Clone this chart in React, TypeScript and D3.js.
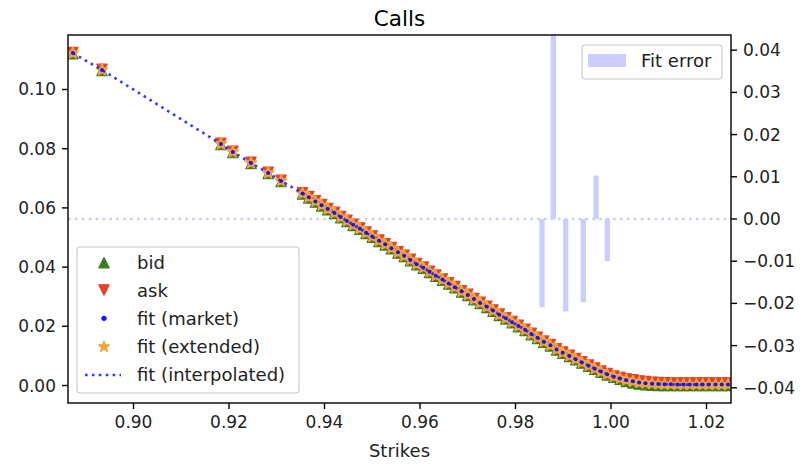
import React from "react";
import * as d3 from "d3";

// ---------- data ----------
const strikes: number[] = [
  0.8873, 0.8934, 0.9183, 0.9208, 0.9246, 0.9282, 0.9309,
  0.9354, 0.9367, 0.9381, 0.9394, 0.9407, 0.9421, 0.9434, 0.9447, 0.9460, 0.9474,
  0.9487, 0.9500, 0.9514, 0.9527, 0.9540, 0.9554, 0.9567, 0.9580, 0.9593, 0.9607,
  0.9620, 0.9633, 0.9647, 0.9660, 0.9673, 0.9687, 0.9700, 0.9713, 0.9726, 0.9740,
  0.9753, 0.9766, 0.9780, 0.9793, 0.9806, 0.9820, 0.9833, 0.9846, 0.9859, 0.9873,
  0.9886, 0.9899, 0.9913, 0.9926, 0.9939, 0.9953, 0.9966, 0.9979, 0.9992, 1.0006,
  1.0019, 1.0032, 1.0046, 1.0059, 1.0072, 1.0086, 1.0099, 1.0112, 1.0125, 1.0139,
  1.0152, 1.0165, 1.0179, 1.0192, 1.0205, 1.0219, 1.0232, 1.0245,
];

const fitValues: number[] = [
  0.1123, 0.1066, 0.0816, 0.0789, 0.0752, 0.0718, 0.0691,
  0.0649, 0.0636, 0.0622, 0.0609, 0.0596, 0.0583, 0.0569, 0.0556, 0.0543, 0.0530,
  0.0516, 0.0503, 0.0489, 0.0477, 0.0464, 0.0450, 0.0438, 0.0424, 0.0410, 0.0398,
  0.0384, 0.0371, 0.0358, 0.0345, 0.0332, 0.0318, 0.0306, 0.0292, 0.0279, 0.0266,
  0.0253, 0.0239, 0.0227, 0.0214, 0.0201, 0.0188, 0.0174, 0.0161, 0.0148, 0.0136,
  0.0122, 0.0111, 0.0100, 0.0089, 0.0078, 0.0067, 0.0057, 0.0047, 0.0038, 0.0030,
  0.0024, 0.0018, 0.0014, 0.0010, 0.0008, 0.0006, 0.0005, 0.0004, 0.0004, 0.0003,
  0.0003, 0.0003, 0.0003, 0.0003, 0.0003, 0.0003, 0.0003, 0.0003,
];

const bidValues: number[] = [
  0.1121, 0.1064, 0.0814, 0.0787, 0.0750, 0.0716, 0.0689,
  0.0647, 0.0634, 0.0620, 0.0607, 0.0594, 0.0581, 0.0567, 0.0554, 0.0541, 0.0528,
  0.0514, 0.0501, 0.0487, 0.0475, 0.0462, 0.0448, 0.0436, 0.0422, 0.0408, 0.0396,
  0.0382, 0.0369, 0.0356, 0.0343, 0.0330, 0.0316, 0.0304, 0.0290, 0.0277, 0.0264,
  0.0251, 0.0237, 0.0225, 0.0212, 0.0199, 0.0186, 0.0172, 0.0159, 0.0146, 0.0134,
  0.0120, 0.0109, 0.0098, 0.0087, 0.0076, 0.0065, 0.0055, 0.0045, 0.0036, 0.0028,
  0.0021, 0.0014, 0.0009, 0.0005, 0.0003, 0.0001, 0.0000, 0.0000, 0.0000, 0.0000,
  0.0000, 0.0000, 0.0000, 0.0000, 0.0000, 0.0000, 0.0000, 0.0000,
];

const askValues: number[] = [
  0.1125, 0.1068, 0.0818, 0.0791, 0.0754, 0.0720, 0.0693,
  0.0651, 0.0638, 0.0624, 0.0611, 0.0598, 0.0585, 0.0571, 0.0558, 0.0545, 0.0532,
  0.0518, 0.0505, 0.0491, 0.0479, 0.0466, 0.0452, 0.0440, 0.0426, 0.0412, 0.0400,
  0.0386, 0.0373, 0.0360, 0.0347, 0.0334, 0.0320, 0.0308, 0.0294, 0.0281, 0.0268,
  0.0255, 0.0241, 0.0229, 0.0216, 0.0203, 0.0190, 0.0176, 0.0163, 0.0150, 0.0138,
  0.0124, 0.0113, 0.0102, 0.0091, 0.0080, 0.0069, 0.0059, 0.0049, 0.0040, 0.0032,
  0.0027, 0.0022, 0.0019, 0.0015, 0.0013, 0.0011, 0.0010, 0.0009, 0.0008, 0.0008,
  0.0008, 0.0008, 0.0008, 0.0008, 0.0008, 0.0008, 0.0008, 0.0008,
];

const errorStrikes: number[] = [0.98555, 0.98792, 0.99051, 0.9942, 0.99686, 0.99922];
const errorValues: number[] = [-0.0209, 0.05, -0.0219, -0.0197, 0.0103, -0.01];

const xTicks: number[] = [0.9, 0.92, 0.94, 0.96, 0.98, 1.0, 1.02];
const yLeftTicks: number[] = [0.0, 0.02, 0.04, 0.06, 0.08, 0.1];
const yRightTicks: number[] = [-0.04, -0.03, -0.02, -0.01, 0.0, 0.01, 0.02, 0.03, 0.04];
const legendLabels: string[] = ["bid", "ask", "fit (market)", "fit (extended)", "fit (interpolated)"];

// ---------- layout ----------
const W = 805;
const H = 464;
const L = 68;
const R = 731;
const T = 35;
const B = 403;
const FONT = "DejaVu Sans, sans-serif";

const GREEN = "#3b7d1c";
const RED = "#e2432a";
const ORANGE = "#f2a63a";
const BLUE = "#1515ff";
const BAR = "#ccccff";

const x = d3.scaleLinear().domain([0.88628, 1.02513]).range([L, R]);
const yL = d3.scaleLinear().domain([-0.00591, 0.11841]).range([B, T]);
const yR = d3.scaleLinear().domain([-0.0436, 0.0436]).range([B, T]);

const MS = 5.2; // marker half-size
const triUp = `M0,${-MS}L${-MS},${MS}L${MS},${MS}Z`;
const triDown = `M0,${MS}L${-MS},${-MS}L${MS},${-MS}Z`;
const starPath = (() => {
  const pts: string[] = [];
  const RO = MS * 1.12;
  for (let k = 0; k < 10; k++) {
    const r = k % 2 === 0 ? RO : RO * 0.42;
    const a = -Math.PI / 2 + (k * Math.PI) / 5;
    pts.push(`${(r * Math.cos(a)).toFixed(2)},${(r * Math.sin(a)).toFixed(2)}`);
  }
  return "M" + pts.join("L") + "Z";
})();

const fmt2 = d3.format(".2f");
const fmtR = (v: number) => {
  const s = d3.format(".2f")(Math.abs(v) < 1e-9 ? 0 : v);
  return s.replace("-", "\u2212");
};

export default function App() {
  const line = d3
    .line<number>()
    .x((_, i) => x(strikes[i]))
    .y((d) => yL(d));
  const barW = x(0.0011) - x(0);

  return (
    <svg
      width={W}
      height={H}
      style={{ position: "absolute", left: 0, top: 0, background: "#fff" }}
      fontFamily={FONT}
    >
      <defs>
        <clipPath id="plotclip">
          <rect x={L} y={T} width={R - L} height={B - T} />
        </clipPath>
      </defs>
      <rect x={0} y={0} width={W} height={H} fill="#fff" />

      {/* title */}
      <text x={(L + R) / 2} y={26} textAnchor="middle" fontSize={21.5} fill="#000">
        Calls
      </text>

      <g clipPath="url(#plotclip)">
        {/* fit error bars (right axis) */}
        {errorStrikes.map((s, i) => {
          const v = errorValues[i];
          const y0 = yR(0);
          const y1 = yR(v);
          return (
            <rect
              key={"b" + i}
              x={x(s) - barW / 2}
              y={Math.min(y0, y1)}
              width={barW}
              height={Math.abs(y1 - y0)}
              fill={BAR}
            />
          );
        })}
        <line
          x1={L}
          x2={R}
          y1={yR(0)}
          y2={yR(0)}
          stroke={BAR}
          strokeWidth={2.6}
          strokeDasharray="2.6 4.3"
        />

        {/* bid */}
        {bidValues.map((v, i) => (
          <path
            key={"bid" + i}
            d={triUp}
            transform={`translate(${x(strikes[i])},${yL(v)})`}
            fill={GREEN}
            stroke={GREEN}
            strokeWidth={1.2}
            strokeLinejoin="round"
          />
        ))}
        {/* ask */}
        {askValues.map((v, i) => (
          <path
            key={"ask" + i}
            d={triDown}
            transform={`translate(${x(strikes[i])},${yL(v)})`}
            fill={RED}
            stroke={RED}
            strokeWidth={1.2}
            strokeLinejoin="round"
          />
        ))}
        {/* fit extended */}
        {fitValues.map((v, i) => (
          <path
            key={"st" + i}
            d={starPath}
            transform={`translate(${x(strikes[i])},${yL(v)})`}
            fill={ORANGE}
            stroke={ORANGE}
            strokeWidth={1.6}
            strokeLinejoin="round"
          />
        ))}
        {/* fit market */}
        {fitValues.map((v, i) => (
          <circle key={"fm" + i} cx={x(strikes[i])} cy={yL(v)} r={2} fill={BLUE} />
        ))}
        {/* fit interpolated */}
        <path
          d={line(fitValues) || ""}
          fill="none"
          stroke={BLUE}
          strokeOpacity={0.85}
          strokeWidth={2.6}
          strokeDasharray="2.6 4.3"
        />
      </g>

      {/* frame */}
      <rect x={L} y={T} width={R - L} height={B - T} fill="none" stroke="#000" strokeWidth={1.4} />

      {/* x axis */}
      {xTicks.map((t) => (
        <g key={"xt" + t}>
          <line x1={x(t)} x2={x(t)} y1={B} y2={B + 6} stroke="#000" strokeWidth={1.4} />
          <text x={x(t)} y={B + 25} textAnchor="middle" fontSize={17} fill="#222">
            {fmt2(t)}
          </text>
        </g>
      ))}
      <text x={(L + R) / 2} y={457} textAnchor="middle" fontSize={18} fill="#222">
        Strikes
      </text>

      {/* left axis */}
      {yLeftTicks.map((t) => (
        <g key={"yl" + t}>
          <line x1={L - 6} x2={L} y1={yL(t)} y2={yL(t)} stroke="#000" strokeWidth={1.4} />
          <text x={L - 12} y={yL(t) + 6} textAnchor="end" fontSize={17} fill="#222">
            {fmt2(t)}
          </text>
        </g>
      ))}

      {/* right axis */}
      {yRightTicks.map((t) => (
        <g key={"yr" + t}>
          <line x1={R} x2={R + 6} y1={yR(t)} y2={yR(t)} stroke="#000" strokeWidth={1.4} />
          <text x={R + 12} y={yR(t) + 6} textAnchor="start" fontSize={17} fill="#222">
            {fmtR(t)}
          </text>
        </g>
      ))}

      {/* legend lower-left */}
      <g>
        <rect
          x={77}
          y={247}
          width={222}
          height={146}
          rx={3}
          fill="#fff"
          fillOpacity={0.8}
          stroke="#cccccc"
          strokeWidth={1.2}
        />
        <path d={triUp} transform="translate(104,262.7)" fill={GREEN} stroke={GREEN} strokeWidth={1.2} strokeLinejoin="round" />
        <path d={triDown} transform="translate(104,290)" fill={RED} stroke={RED} strokeWidth={1.2} strokeLinejoin="round" />
        <circle cx={104} cy={318.3} r={2.6} fill={BLUE} />
        <path d={starPath} transform="translate(104,346.7)" fill={ORANGE} stroke={ORANGE} strokeWidth={1.2} strokeLinejoin="round" />
        <line x1={85} x2={121} y1={375} y2={375} stroke={BLUE} strokeOpacity={0.85} strokeWidth={2.6} strokeDasharray="2.6 4.3" />
        {legendLabels.map((s, i) => (
          <text key={s} x={137} y={262.7 + i * 28.1 + 6} fontSize={18} fill="#222">
            {s}
          </text>
        ))}
      </g>

      {/* legend upper-right */}
      <g>
        <rect
          x={582}
          y={45}
          width={140}
          height={34}
          rx={3}
          fill="#fff"
          fillOpacity={0.8}
          stroke="#cccccc"
          strokeWidth={1.2}
        />
        <rect x={588} y={54} width={38} height={13} fill={BAR} />
        <text x={641} y={67} fontSize={18} fill="#222">
          Fit error
        </text>
      </g>
    </svg>
  );
}
